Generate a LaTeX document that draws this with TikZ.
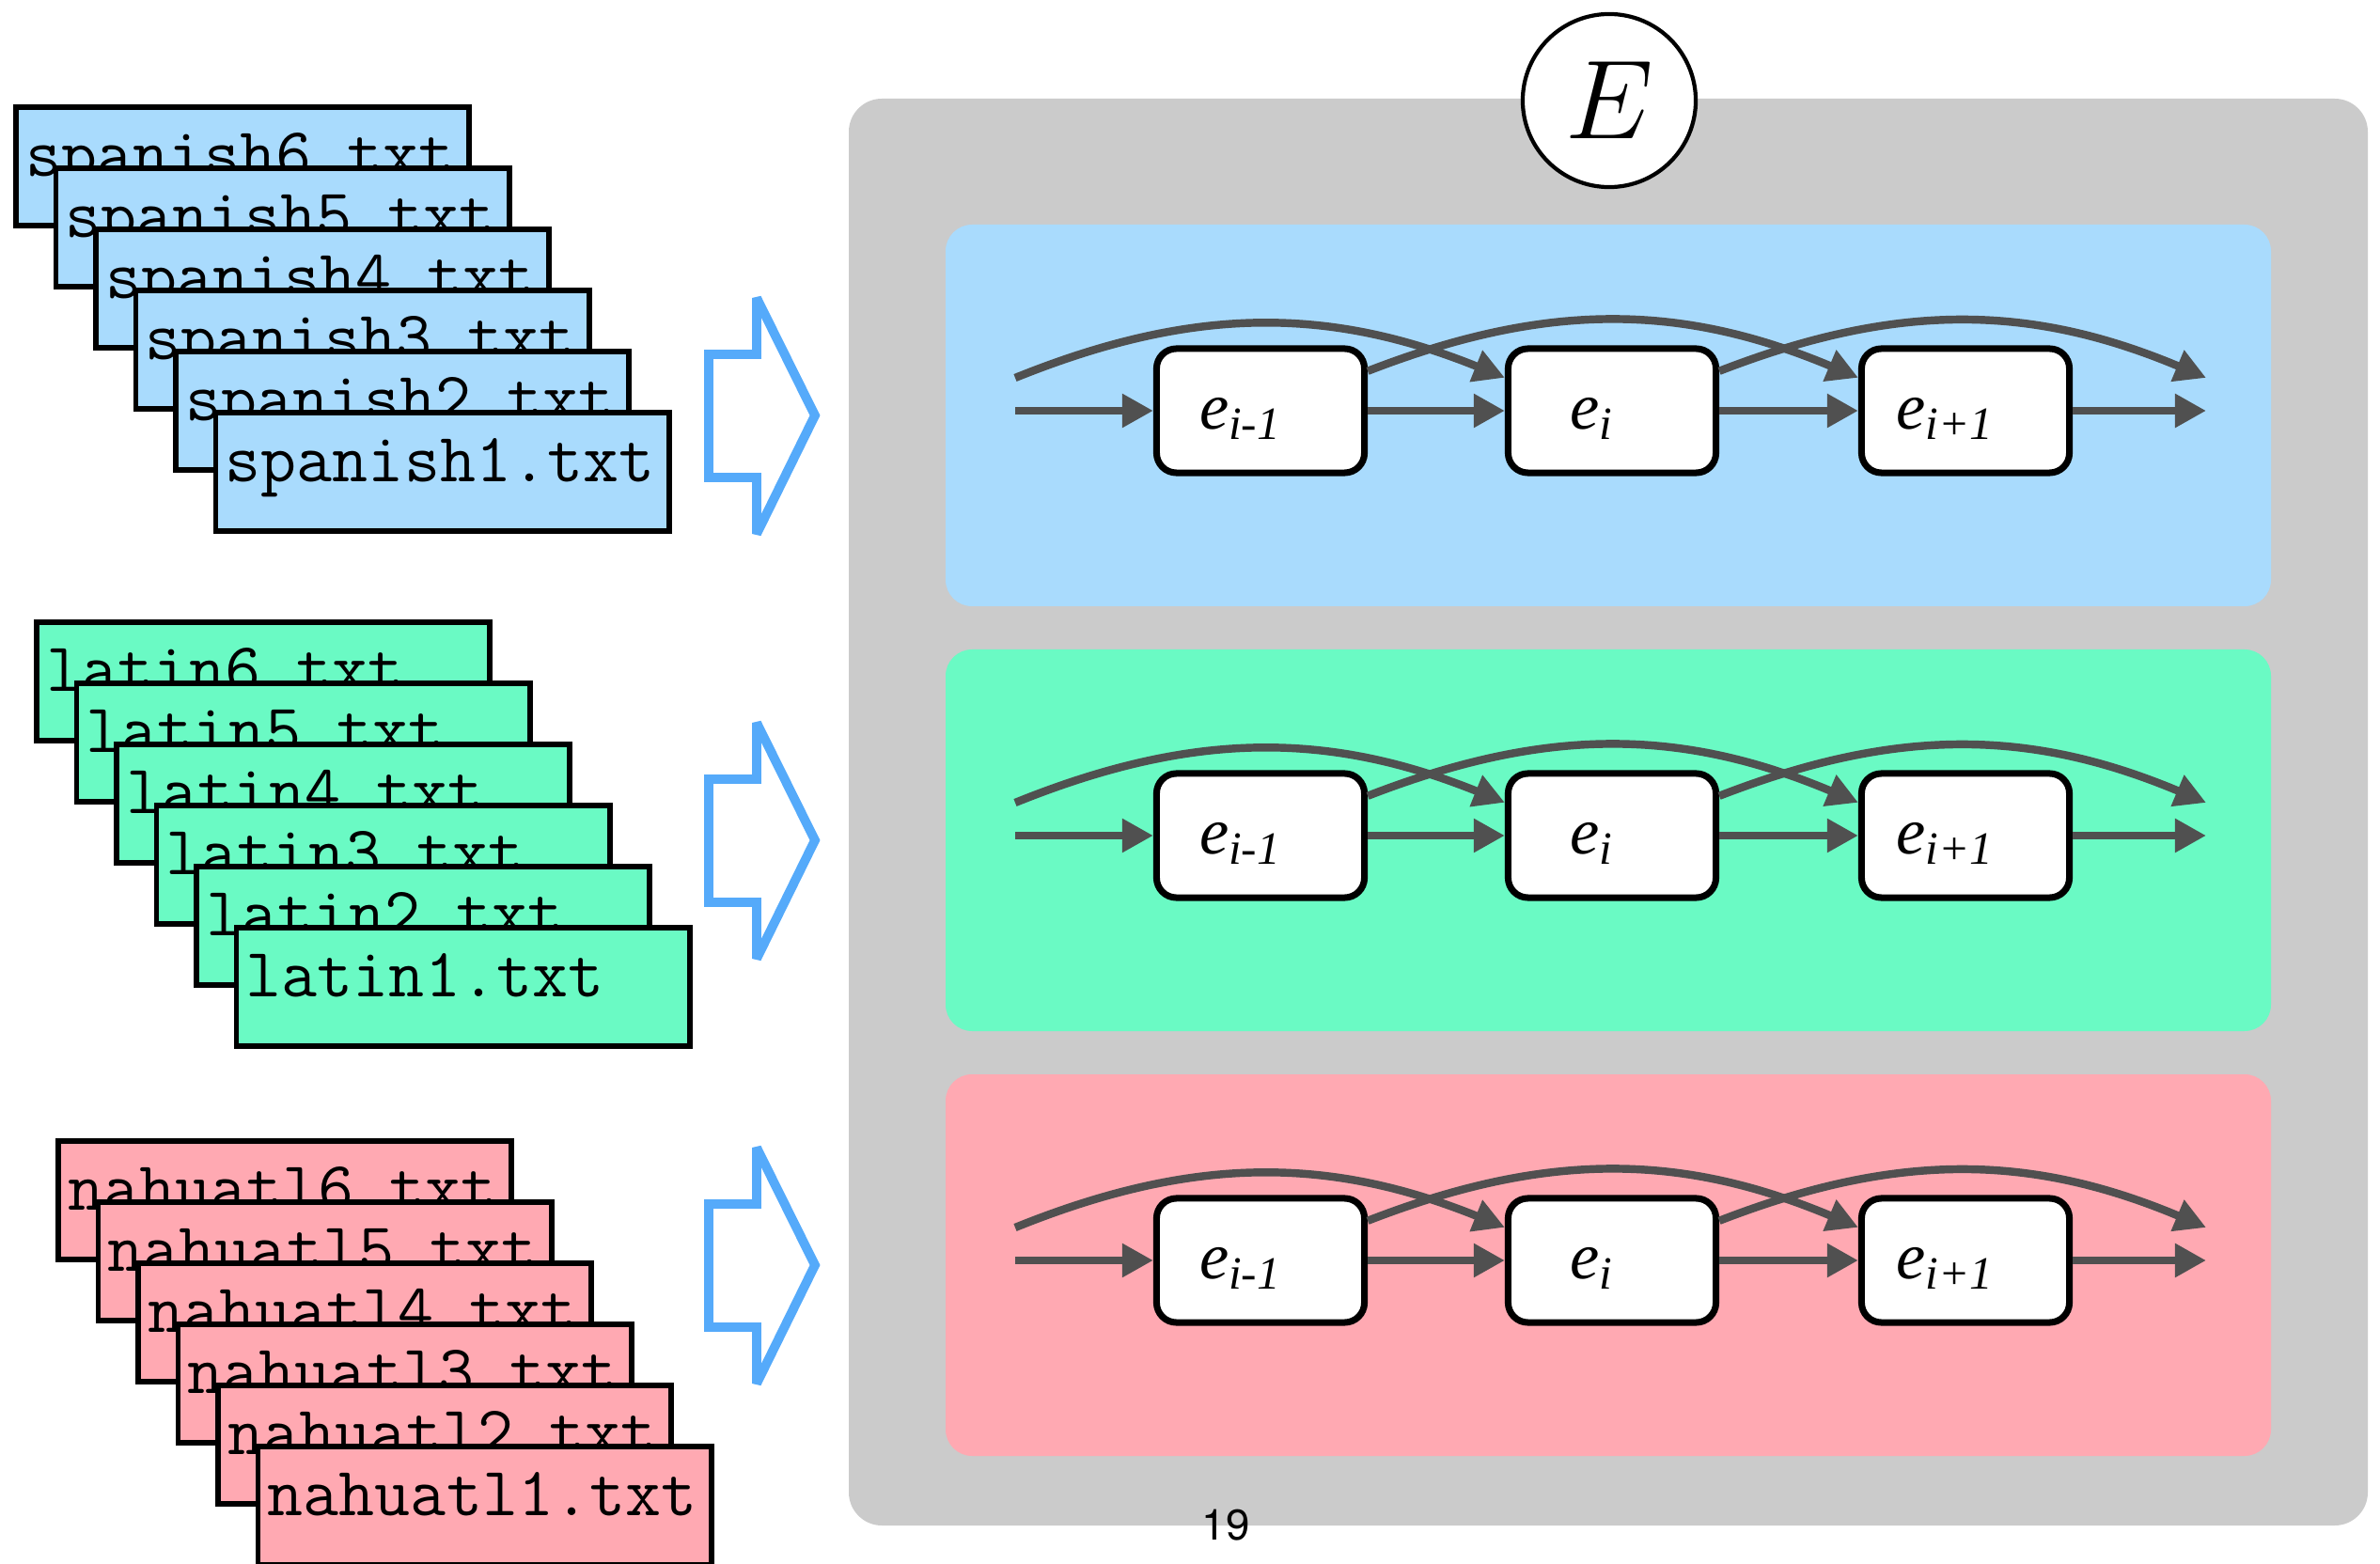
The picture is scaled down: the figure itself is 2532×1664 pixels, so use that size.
\RequirePackage{fix-cm}
\documentclass[tikz,border=0pt]{standalone}
\usepackage{fontspec}
\newfontfamily\pagenumfont{TeX Gyre Heros}
\newfontfamily\unitfont{Liberation Serif}
\usetikzlibrary{arrows.meta}

\definecolor{spanishblue}{RGB}{169,219,253}
\definecolor{latingreen}{RGB}{106,250,196}
\definecolor{nahuatlpink}{RGB}{255,169,178}
\definecolor{panelgray}{RGB}{203,203,203}
\definecolor{arrowblue}{RGB}{85,170,250}
\definecolor{linkgray}{RGB}{80,80,80}

\newcommand{\elab}[1]{e\textsubscript{#1}\kern12pt}

\begin{document}
\begin{tikzpicture}[
        x=0.01cm, y=-0.01cm,
        file/.style={draw, line width=1.6pt, minimum height=1.26cm, text width=4.61cm,
            inner xsep=3pt, align=left, font=\fontsize{21}{24}\ttfamily,
            text height=6pt, text depth=0pt},
        unit/.style={draw, line width=2pt, fill=white, rounded corners=6pt,
            minimum width=2.21cm, minimum height=1.32cm,
            font=\fontsize{20}{24}\unitfont\itshape,
            text height=11.2pt, text depth=0pt},
        link/.style={draw=linkgray, line width=2.4pt, -{Triangle[length=9.4pt, width=9.7pt]}},
        fatarrow/.style={draw=arrowblue, line width=2.8pt, line join=miter, miter limit=3},
        state/.style={draw, circle, fill=white, line width=1.2pt, minimum size=1.84cm,
            font=\fontsize{34}{40}\selectfont},
    ]
    \useasboundingbox (0,0) rectangle (2532,1664);

    \foreach \lang/\col/\fx/\fy in {spanish/spanishblue/258/177, latin/latingreen/280/725, nahuatl/nahuatlpink/303/1277}
        \foreach \k in {6,...,1}
            \node[file, fill=\col] (\lang\k) at ({\fx+42.5*(6-\k)},{\fy+65*(6-\k)}) {\lang\k.txt};

    \fill[panelgray, rounded corners=10pt] (903,105) rectangle (2519,1623);
    \node[state] (E) at (1712,107) {$E$};

    \foreach \r/\c/\col in {1/442/spanishblue, 2/894/latingreen, 3/1346/nahuatlpink} {
        \draw[fatarrow] (754,{\c-65}) -- (805,{\c-65}) -- (805,{\c-125}) -- (867,\c)
            -- (805,{\c+126}) -- (805,{\c+66}) -- (754,{\c+66}) -- cycle;
        \fill[\col, rounded corners=8pt] (1006,{\c-203}) rectangle (2416,{\c+203});

        \node[unit] (eim\r) at (1341,{\c-5}) {\elab{i-1}};
        \node[unit] (ei\r) at (1715,{\c-5}) {\elab{i}};
        \node[unit] (eip\r) at (2091,{\c-5}) {\elab{i+1}};
        \coordinate (in\r) at (1080,{\c-5});
        \coordinate (intop\r) at (1080,{\c-40});
        \coordinate (out\r) at (2347,{\c-5});
        \coordinate (outtop\r) at (2347,{\c-40});

        \draw[link] (in\r) -- (eim\r.west);
        \draw[link] (eim\r.east) -- (ei\r.west);
        \draw[link] (ei\r.east) -- (eip\r.west);
        \draw[link] (eip\r.east) -- (out\r);
        \draw[link] (intop\r) to[bend left=22] ([yshift=10pt]ei\r.west);
        \draw[link] ([yshift=12pt]eim\r.east) to[bend left=22] ([yshift=10pt]eip\r.west);
        \draw[link] ([yshift=12pt]ei\r.east) to[bend left=22] (outtop\r);
    }

    \node[font=\pagenumfont\fontsize{13}{15}\selectfont] (page) at (1304,1623) {19};
\end{tikzpicture}
\end{document}
